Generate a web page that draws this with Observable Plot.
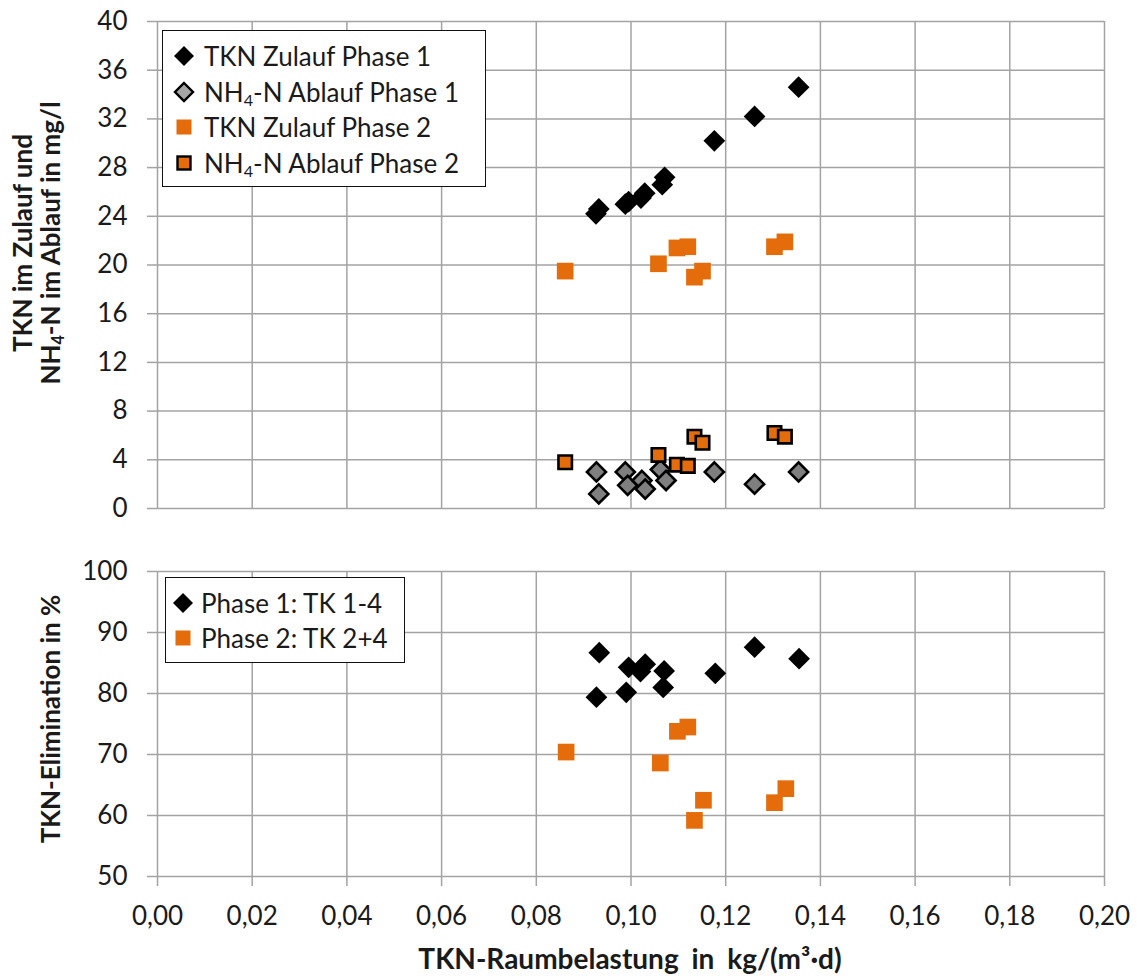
<!DOCTYPE html>
<html>
<head>
<meta charset="utf-8">
<script src="https://cdn.jsdelivr.net/npm/d3@7"></script>
<script src="https://cdn.jsdelivr.net/npm/@observablehq/plot@0.6"></script>
<style>
  body { margin: 0; background: #fff; }
  #fig { position: relative; width: 1137px; height: 978px; font-family: Lato, sans-serif; color: #1a1a1a; overflow: hidden; background: #fff; }
  .plot { position: absolute; left: 0; }
  .legend { position: absolute; background: #fff; border: 1px solid #111; box-sizing: border-box; }
  .entry { position: absolute; font-size: 26px; white-space: nowrap; height: 30px; line-height: 30px; }
  .sym { position: absolute; }
  .title { position: absolute; font-weight: 700; font-size: 26px; white-space: nowrap; text-align: center; line-height: 28px; }
  .title.wide { font-size: 28px; word-spacing: 6px; }
  sub { font-size: 0.62em; vertical-align: -0.25em; line-height: 0; }
</style>
</head>
<body>
<div id="fig"></div>
<script>
// Axis ticks
const xTicks = [0, 0.02, 0.04, 0.06, 0.08, 0.10, 0.12, 0.14, 0.16, 0.18, 0.20];
const yTicksConc = [0, 4, 8, 12, 16, 20, 24, 28, 32, 36, 40];
const yTicksElim = [50, 60, 70, 80, 90, 100];

// Phase 1 (TK 1-4): TKN load in kg/(m³·d)
const loadP1 = [0.0926, 0.0932, 0.0988, 0.0995, 0.1021, 0.1029, 0.1066, 0.1071, 0.1176, 0.1261, 0.1354];
const tknInP1 = [24.2, 24.6, 25.0, 25.2, 25.5, 25.9, 26.6, 27.2, 30.2, 32.2, 34.6];
const loadNh4P1 = [0.0927, 0.0932, 0.0988, 0.0993, 0.1023, 0.1030, 0.1062, 0.1074, 0.1176, 0.1261, 0.1354];
const nh4OutP1 = [3.0, 1.2, 3.0, 1.9, 2.3, 1.6, 3.2, 2.3, 3.0, 2.0, 3.0];
const loadElimP1 = [0.0927, 0.0933, 0.0990, 0.0995, 0.1020, 0.1030, 0.1068, 0.1070, 0.1178, 0.1261, 0.1355];
const elimP1 = [79.4, 86.7, 80.2, 84.3, 83.6, 84.8, 81.0, 83.7, 83.3, 87.6, 85.7];

// Phase 2 (TK 2+4)
const loadP2 = [0.0861, 0.1058, 0.1097, 0.1120, 0.1134, 0.1151, 0.1303, 0.1325];
const tknInP2 = [19.5, 20.1, 21.4, 21.5, 19.0, 19.5, 21.5, 21.9];
const nh4OutP2 = [3.8, 4.4, 3.6, 3.5, 5.9, 5.4, 6.2, 5.9];
const loadElimP2 = [0.0863, 0.1062, 0.1098, 0.1120, 0.1134, 0.1153, 0.1303, 0.1327];
const elimP2 = [70.4, 68.6, 73.8, 74.5, 59.2, 62.5, 62.1, 64.4];

const BLACK = "#000000";
const GRAY_MARK = "#7f7f7f";
const GRAY_KEY = "#a6a6a6";
const ORANGE = "#e46c0a";
const GRID = "#a3a3a3";
const TEXT = "#1a1a1a";

const fmtComma = d => d.toFixed(2).replace(".", ",");
const fig = document.getElementById("fig");

const baseStyle = { fontFamily: "Lato, sans-serif", fontSize: "26px", color: TEXT, background: "transparent", overflow: "visible" };
const grid = (ticks, dim) => (dim === "x" ? Plot.gridX : Plot.gridY)(ticks, { stroke: GRID, strokeOpacity: 1, strokeWidth: 1.5 });

// Upper panel: TKN influent and NH4-N effluent concentrations
const upper = Plot.plot({
  width: 1137, height: 520,
  marginLeft: 157, marginRight: 33, marginTop: 21, marginBottom: 12,
  style: baseStyle,
  x: { domain: [0, 0.2], axis: null },
  y: { domain: [0, 40] },
  marks: [
    grid(xTicks, "x"),
    grid(yTicksConc, "y"),
    Plot.dot(tknInP1, { x: loadP1, y: tknInP1, symbol: "diamond2", r: 9.8, fill: BLACK }),
    Plot.dot(nh4OutP1, { x: loadNh4P1, y: nh4OutP1, symbol: "diamond2", r: 8.6, fill: GRAY_MARK, stroke: BLACK, strokeWidth: 2.6 }),
    Plot.dot(tknInP2, { x: loadP2, y: tknInP2, symbol: "square", r: 9.4, fill: ORANGE }),
    Plot.dot(nh4OutP2, { x: loadP2, y: nh4OutP2, symbol: "square", r: 7.6, fill: ORANGE, stroke: BLACK, strokeWidth: 2.6 }),
    Plot.axisY(yTicksConc, { tickSize: 10, tickPadding: 20, stroke: GRID, strokeWidth: 1.5, fill: TEXT, label: null })
  ]
});
upper.classList.add("plot");
upper.style.top = "0px";
fig.appendChild(upper);

// Lower panel: TKN elimination
const lower = Plot.plot({
  width: 1137, height: 428,
  marginLeft: 157, marginRight: 33, marginTop: 21, marginBottom: 102,
  style: baseStyle,
  x: { domain: [0, 0.2] },
  y: { domain: [50, 100] },
  marks: [
    grid(xTicks, "x"),
    grid(yTicksElim, "y"),
    Plot.dot(elimP1, { x: loadElimP1, y: elimP1, symbol: "diamond2", r: 9.8, fill: BLACK }),
    Plot.dot(elimP2, { x: loadElimP2, y: elimP2, symbol: "square", r: 9.4, fill: ORANGE }),
    Plot.axisY(yTicksElim, { tickSize: 10, tickPadding: 20, stroke: GRID, strokeWidth: 1.5, fill: TEXT, label: null }),
    Plot.axisX(xTicks, { tickSize: 10, tickPadding: 20, tickFormat: fmtComma, stroke: GRID, strokeWidth: 1.5, fill: TEXT, label: null })
  ]
});
lower.classList.add("plot");
lower.style.top = "550px";
fig.appendChild(lower);

// Legend symbols
function symbolSvg(kind) {
  const s = 24, c = 12;
  let inner = "";
  if (kind === "diamond") inner = `<path d="M${c},${c-10}L${c+10},${c}L${c},${c+10}L${c-10},${c}Z" fill="${BLACK}"/>`;
  if (kind === "diamondGray") inner = `<path d="M${c},${c-9}L${c+9},${c}L${c},${c+9}L${c-9},${c}Z" fill="${GRAY_KEY}" stroke="${BLACK}" stroke-width="2.4"/>`;
  if (kind === "square") inner = `<rect x="${c-7.5}" y="${c-7.5}" width="15" height="15" fill="${ORANGE}"/>`;
  if (kind === "squareEdge") inner = `<rect x="${c-6.5}" y="${c-6.5}" width="13" height="13" fill="${ORANGE}" stroke="${BLACK}" stroke-width="2.4"/>`;
  return `<svg width="${s}" height="${s}" viewBox="0 0 ${s} ${s}">${inner}</svg>`;
}

function legend(box, entries, symX, textX, rowYs) {
  const el = document.createElement("div");
  el.className = "legend";
  Object.assign(el.style, { left: box.left + "px", top: box.top + "px", width: box.width + "px", height: box.height + "px" });
  entries.forEach((e, i) => {
    const cy = rowYs[i] - box.top;
    const sym = document.createElement("div");
    sym.className = "sym";
    sym.innerHTML = symbolSvg(e.symbol);
    Object.assign(sym.style, { left: (symX - box.left - 12) + "px", top: (cy - 12) + "px", height: "24px" });
    const txt = document.createElement("div");
    txt.className = "entry";
    txt.innerHTML = e.label;
    Object.assign(txt.style, { left: (textX - box.left) + "px", top: (cy - 15) + "px" });
    el.appendChild(sym);
    el.appendChild(txt);
  });
  fig.appendChild(el);
}

const concSeries = [
  { label: "TKN Zulauf Phase 1", symbol: "diamond" },
  { label: "NH<sub>4</sub>-N Ablauf Phase 1", symbol: "diamondGray" },
  { label: "TKN Zulauf Phase 2", symbol: "square" },
  { label: "NH<sub>4</sub>-N Ablauf Phase 2", symbol: "squareEdge" }
];
const elimSeries = [
  { label: "Phase 1: TK 1-4", symbol: "diamond" },
  { label: "Phase 2: TK 2+4", symbol: "square" }
];

legend({ left: 162, top: 30, width: 324, height: 157 }, concSeries, 183, 203, [55, 91, 126, 162]);
legend({ left: 165, top: 577, width: 240, height: 86 }, elimSeries, 182, 200, [602, 637]);

// Axis titles
function title(html, cx, cy, rotate, extra) {
  const el = document.createElement("div");
  el.className = "title" + (extra ? " " + extra : "");
  el.innerHTML = html;
  el.style.left = cx + "px";
  el.style.top = cy + "px";
  el.style.transform = `translate(-50%, -50%)${rotate ? " rotate(-90deg)" : ""}`;
  fig.appendChild(el);
}
title("TKN im Zulauf und<br>NH<sub>4</sub>-N im Ablauf in mg/l", 36, 243, true);
title("TKN-Elimination in %", 50, 719, true);
title("TKN-Raumbelastung in kg/(m³·d)", 630, 958, false, "wide");
</script>
</body>
</html>
